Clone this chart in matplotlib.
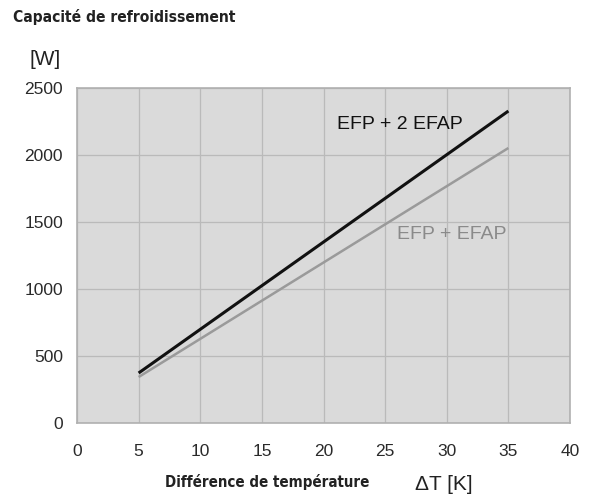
import matplotlib
matplotlib.use("Agg")
import matplotlib.pyplot as plt

# Data
delta_t = [5, 35]
efp_2efap = [373, 2328]
efp_efap = [343, 2052]
x_ticks = [0, 5, 10, 15, 20, 25, 30, 35, 40]
y_ticks = [0, 500, 1000, 1500, 2000, 2500]

plt.rcParams['font.family'] = ['Liberation Sans', 'DejaVu Sans']

fig = plt.figure(figsize=(5.97, 5.01), dpi=100)
ax = fig.add_axes([0.129, 0.1557, 0.8258, 0.6687])
ax.set_facecolor('#dadada')

ax.plot(delta_t, efp_2efap, color='#111111', lw=2.2, solid_capstyle='butt')
ax.plot(delta_t, efp_efap, color='#9a9a9a', lw=1.8, solid_capstyle='butt')

ax.set_xlim(0, 40)
ax.set_ylim(0, 2500)
ax.set_xticks(x_ticks)
ax.set_yticks(y_ticks)
ax.grid(True, color='#bababa', lw=0.9)
ax.set_axisbelow(True)
ax.tick_params(length=0, labelsize=12.5, colors='#2a2a2a')
ax.tick_params(axis='x', pad=15)
ax.tick_params(axis='y', pad=10)
for s in ax.spines.values():
    s.set_color('#b0b0b0')
    s.set_linewidth(1.2)

ax.text(21.1, 2224, 'EFP + 2 EFAP', fontsize=14, color='#111111', va='center')
ax.text(26.0, 1403, 'EFP + EFAP', fontsize=14, color='#8a8a8a', va='center')

cond = ['DejaVu Sans']
fig.text(0.022, 0.966, 'Capacité de refroidissement', fontsize=11.2, fontweight='bold',
         fontstretch='condensed', family=cond, color='#222222', va='center')
fig.text(0.0486, 0.882, '[W]', fontsize=15, color='#222222', va='center')
fig.text(0.276, 0.038, 'Différence de température', fontsize=10.8, fontweight='bold',
         fontstretch='condensed', family=cond, color='#222222', va='center')
fig.text(0.695, 0.032, 'ΔT [K]', fontsize=15, color='#222222', va='center')

fig.savefig('out.png', dpi=100)
